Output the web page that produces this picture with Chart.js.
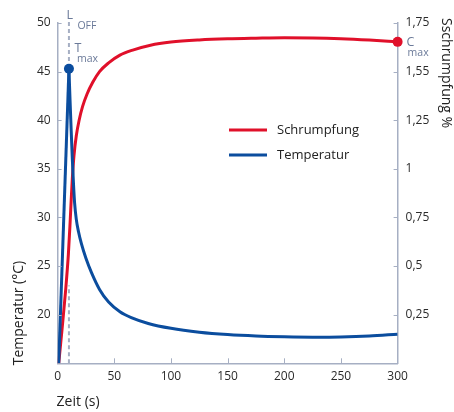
<!DOCTYPE html>
<html>
<head>
<meta charset="utf-8">
<title>Schrumpfung und Temperatur</title>
<script src="https://cdn.jsdelivr.net/npm/chart.js@4.4.1/dist/chart.umd.min.js"></script>
<style>
    html, body { margin: 0; padding: 0; background: #fff; }
    #chart { display: block; }
</style>
</head>
<body>
<canvas id="chart" width="454" height="412"></canvas>
<script>
// Temperature and shrinkage over time, laser switched off at T max.
const TEMP_RISE_T = [1, 10];
const TEMP_RISE = [15, 45.3];
const TEMP_FALL_T = [10, 11, 12, 13, 14, 15, 16.5, 18.5, 21, 25, 30, 37, 45, 55, 65, 80, 100, 125, 150, 175, 200, 225, 250, 275, 300];
const TEMP_FALL = [45.3, 42.0, 38.9, 36.0, 33.5, 31.5, 29.8, 28.5, 27.3, 25.8, 24.3, 22.6, 21.3, 20.3, 19.7, 19.1, 18.6, 18.2, 17.95, 17.8, 17.72, 17.68, 17.7, 17.8, 18.0];

const SHRINK_T = [1, 4, 7, 9.5, 11, 12, 13, 14.5, 16.5, 19, 22, 26, 31, 37, 45, 55, 67, 82, 100, 125, 150, 175, 200, 225, 250, 275, 300];
const SHRINK = [0, 0.18, 0.37, 0.56, 0.72, 0.84, 0.95, 1.07, 1.17, 1.25, 1.32, 1.385, 1.445, 1.50, 1.545, 1.585, 1.612, 1.636, 1.652, 1.663, 1.669, 1.672, 1.674, 1.673, 1.669, 1.662, 1.653];

const T_OFF = 10;                 // L OFF / T max
const T_MAX = 45.3;
const C_MAX_T = 300;
const C_MAX = 1.653;
const LOFF_LOW = [15, 23];        // dashed marker below the curves
const LOFF_HIGH = [46.1, 50.3];   // dashed marker above T max

const X_TICKS = [0, 50, 100, 150, 200, 250, 300];
const SHRINK_LABELS = ['', '0,25', '0,5', '0,75', '1', '1,25', '1,55', '1,75'];

const RED = '#e0102a';
const BLUE = '#0b4d9e';
const AXIS = '#a6afc3';
const NOTE = '#6b7a99';
const FONT = '"Open Sans", "DejaVu Sans", sans-serif';

Chart.defaults.font.family = FONT;

const pts = (xs, ys) => xs.map((x, i) => ({ x, y: ys[i] }));

// titles, legend, inward tick marks and the L OFF / T max / C max notes
const decorations = {
    id: 'decorations',
    afterDraw(chart) {
        const { ctx, chartArea: a, scales } = chart;
        const sx = scales.x, sy = scales.y, sr = scales.y1;
        ctx.save();

        ctx.strokeStyle = AXIS;
        ctx.lineWidth = 1;
        ctx.beginPath();
        sy.ticks.forEach(t => {
            if (t.value <= sy.min) return;
            const y = Math.round(sy.getPixelForValue(t.value)) + 0.5;
            ctx.moveTo(a.left, y); ctx.lineTo(a.left + 4, y);
        });
        sr.ticks.forEach(t => {
            if (t.value <= sr.min) return;
            const y = Math.round(sr.getPixelForValue(t.value)) + 0.5;
            ctx.moveTo(a.right, y); ctx.lineTo(a.right - 4, y);
        });
        sx.ticks.forEach(t => {
            if (t.value <= sx.min || t.value >= sx.max) return;
            const x = Math.round(sx.getPixelForValue(t.value)) + 0.5;
            ctx.moveTo(x, a.bottom); ctx.lineTo(x, a.bottom - 5);
        });
        ctx.stroke();

        // axis titles
        ctx.fillStyle = '#222';
        ctx.font = `14px ${FONT}`;
        ctx.textAlign = 'left';
        ctx.textBaseline = 'alphabetic';
        ctx.fillText('Zeit (s)', a.left - 1, 406);

        ctx.save();
        ctx.translate(22.5, a.bottom + 2);
        ctx.rotate(-Math.PI / 2);
        ctx.fillText('Temperatur (°C)', 0, 0);
        ctx.restore();

        ctx.save();
        ctx.translate(441.5, a.top - 5);
        ctx.rotate(Math.PI / 2);
        ctx.fillText('Sschrumpfung %', 0, 0);
        ctx.restore();

        // legend
        const lx = 229, tx = 277;
        [['Schrumpfung', RED, 130], ['Temperatur', BLUE, 155]].forEach(([txt, col, y]) => {
            ctx.strokeStyle = col;
            ctx.lineWidth = 3;
            ctx.beginPath();
            ctx.moveTo(lx, y); ctx.lineTo(lx + 38, y);
            ctx.stroke();
            ctx.fillStyle = '#222';
            ctx.font = `13px ${FONT}`;
            ctx.textBaseline = 'middle';
            ctx.fillText(txt, tx, y);
        });

        // notes
        const px = sx.getPixelForValue(T_OFF);
        const py = sy.getPixelForValue(T_MAX);
        const cx = sx.getPixelForValue(C_MAX_T);
        const cy = sr.getPixelForValue(C_MAX);
        ctx.fillStyle = NOTE;
        ctx.textBaseline = 'alphabetic';
        ctx.font = `12.5px ${FONT}`;
        ctx.fillText('L', px - 2.5, 18.5);
        ctx.fillText('T', px + 5.5, py - 16.5);
        ctx.fillText('C', cx + 9, cy + 4.5);
        ctx.font = `10.5px ${FONT}`;
        ctx.fillText('OFF', px + 8.5, 28.5);
        ctx.fillText('max', px + 8, py - 6.5);
        ctx.fillText('max', cx + 10, cy + 14.5);

        ctx.restore();
    }
};

new Chart(document.getElementById('chart'), {
    type: 'line',
    data: {
        datasets: [
            {
                label: 'Temperatur', yAxisID: 'y', order: 0,
                data: pts(TEMP_RISE_T, TEMP_RISE),
                borderColor: BLUE, borderWidth: 3, tension: 0, pointRadius: 0,
            },
            {
                label: 'Temperatur', yAxisID: 'y', order: 0,
                data: pts(TEMP_FALL_T, TEMP_FALL),
                borderColor: BLUE, borderWidth: 3, cubicInterpolationMode: 'monotone', pointRadius: 0,
            },
            {
                label: 'Schrumpfung', yAxisID: 'y1', order: 1,
                data: pts(SHRINK_T, SHRINK),
                borderColor: RED, borderWidth: 3, cubicInterpolationMode: 'monotone', pointRadius: 0,
            },
            {
                label: 'L OFF', yAxisID: 'y', order: 3, clip: false,
                data: pts([T_OFF, T_OFF], LOFF_LOW),
                borderColor: AXIS, borderWidth: 2, borderDash: [4, 3], pointRadius: 0,
            },
            {
                label: 'L OFF', yAxisID: 'y', order: 3, clip: false,
                data: pts([T_OFF, T_OFF], LOFF_HIGH),
                borderColor: AXIS, borderWidth: 2, borderDash: [4, 3], pointRadius: 0,
            },
            {
                label: 'T max', yAxisID: 'y', order: -1, showLine: false, clip: false,
                data: pts([T_OFF], [T_MAX]),
                pointRadius: 5, pointBackgroundColor: BLUE, pointBorderWidth: 0,
            },
            {
                label: 'C max', yAxisID: 'y1', order: -1, showLine: false, clip: false,
                data: pts([C_MAX_T], [C_MAX]),
                pointRadius: 5, pointBackgroundColor: RED, pointBorderWidth: 0,
            },
        ]
    },
    options: {
        responsive: false,
        animation: false,
        devicePixelRatio: 1,
        layout: { padding: { top: 23, left: 0, right: 0, bottom: 0 } },
        plugins: { legend: { display: false }, tooltip: { enabled: false } },
        scales: {
            x: {
                type: 'linear', position: 'bottom', min: 0, max: 300,
                afterBuildTicks: s => { s.ticks = X_TICKS.map(v => ({ value: v })); },
                afterFit: s => { s.height = 48.7; },
                ticks: { color: '#2b2b2b', font: { size: 12 }, padding: 6 },
                grid: { display: false, drawTicks: false },
                border: { color: AXIS, width: 1.5 },
            },
            y: {
                type: 'linear', position: 'left', min: 15, max: 50,
                afterFit: s => { s.width = 57.6; },
                ticks: {
                    stepSize: 5, color: '#2b2b2b', font: { size: 12 }, padding: 7,
                    callback: v => (v === 15 ? '' : v),
                },
                grid: { display: false, drawTicks: false },
                border: { color: AXIS, width: 1.5 },
            },
            y1: {
                type: 'linear', position: 'right', min: 0, max: 1.75,
                afterFit: s => { s.width = 56.4; },
                ticks: {
                    stepSize: 0.25, color: '#2b2b2b', font: { size: 12 }, padding: 8,
                    callback: (v, i) => SHRINK_LABELS[i] ?? '',
                },
                grid: { display: false, drawTicks: false },
                border: { color: AXIS, width: 1.5 },
            },
        }
    },
    plugins: [decorations]
});
</script>
</body>
</html>
